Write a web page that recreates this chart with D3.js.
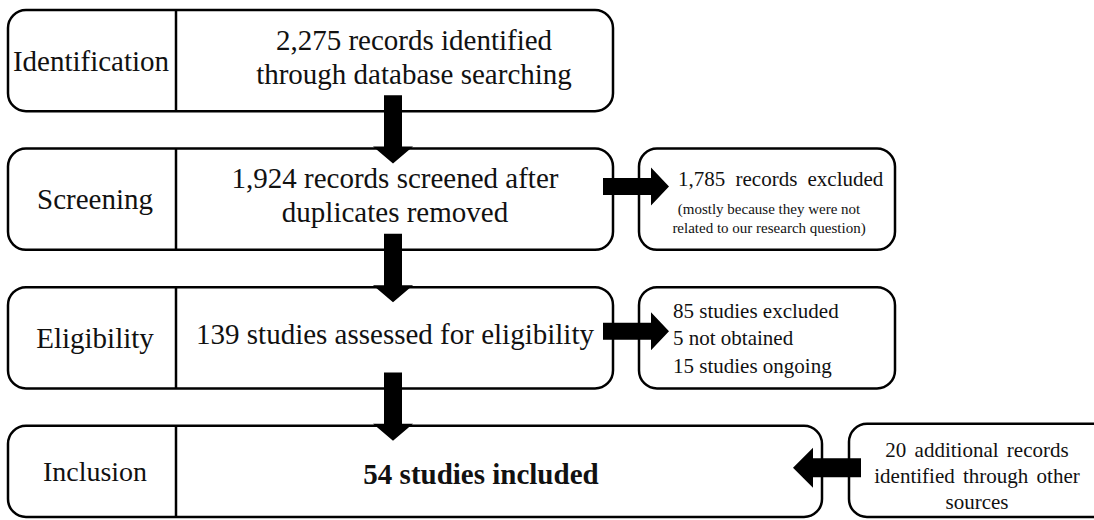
<!DOCTYPE html>
<html>
<head>
<meta charset="utf-8">
<script src="https://cdn.jsdelivr.net/npm/d3@7"></script>
<style>
  html, body { margin: 0; padding: 0; background: #fff; }
  svg { display: block; }
  .box { fill: #fff; stroke: #000; stroke-width: 2.5; }
  .divider { stroke: #000; stroke-width: 2.5; }
  .arrow { fill: #000; }
  text { font-family: "Liberation Serif", "Times New Roman", serif; fill: #111; }
</style>
</head>
<body>
<div id="chart"></div>
<script>
// PRISMA flow diagram
const W = 1094, H = 520;

const stages     = ['Identification', 'Screening', 'Eligibility', 'Inclusion'];
const mainLines  = [
  ['2,275 records identified', 'through database searching'],
  ['1,924 records screened after', 'duplicates removed'],
  ['139 studies assessed for eligibility'],
  ['54 studies included']
];
const excludedLines = [
  null,
  ['1,785 records excluded'],
  ['85 studies excluded', '5 not obtained', '15 studies ongoing'],
  null
];
const excludedNote = ['(mostly because they were not', 'related to our research question)'];
const otherSources = ['20 additional records', 'identified through other', 'sources'];

const svg = d3.select('#chart').append('svg')
  .attr('width', W)
  .attr('height', H);

// righe del diagramma
const y = d3.scaleBand()
  .domain(stages)
  .range([10, 527])
  .paddingInner(0.27);

const LEFT = 8, DIV = 176, MAIN_R = 613, LAST_R = 822;
const SIDE_L = 639, SIDE_R = 895;
const OTHER_L = 849;

const rowH = d => Math.min(y.bandwidth(), H - 3 - y(d));

// box principali
svg.selectAll('.main-box')
  .data(stages)
  .enter()
  .append('rect')
  .attr('class', 'box')
  .attr('x', LEFT)
  .attr('y', d => y(d))
  .attr('width', (d, i) => (i === stages.length - 1 ? LAST_R : MAIN_R) - LEFT)
  .attr('height', rowH)
  .attr('rx', 18);

svg.selectAll('.divider')
  .data(stages)
  .enter()
  .append('line')
  .attr('class', 'divider')
  .attr('x1', DIV).attr('x2', DIV)
  .attr('y1', d => y(d))
  .attr('y2', d => y(d) + rowH(d));

// etichette delle fasi
svg.selectAll('.stage-label')
  .data(stages)
  .enter()
  .append('text')
  .attr('class', 'stage-label')
  .attr('x', (d, i) => i === 0 ? 91 : 95)
  .attr('y', d => y(d) + rowH(d) / 2)
  .attr('dy', '0.35em')
  .attr('text-anchor', 'middle')
  .attr('font-size', (d, i) => i === 3 ? 28 : 29)
  .text(d => d);

// testo principale
const LINE_H = 34;
stages.forEach((s, i) => {
  const lines = mainLines[i];
  const cx = i === 3 ? 481 : (i === 0 ? 414 : 395);
  const cy = y(s) + (i === 3 ? rowH(s) / 2 + 2 : rowH(s) / 2 - 4);
  svg.append('g')
    .selectAll('text')
    .data(lines)
    .enter()
    .append('text')
    .attr('x', cx)
    .attr('y', (d, k) => cy + (k - (lines.length - 1) / 2) * LINE_H)
    .attr('dy', '0.35em')
    .attr('text-anchor', 'middle')
    .attr('font-size', 29)
    .attr('font-weight', i === 3 ? 'bold' : 'normal')
    .text(d => d);
});

// box laterali (esclusi)
const sideRows = stages.filter((s, i) => excludedLines[i]);
svg.selectAll('.side-box')
  .data(sideRows)
  .enter()
  .append('rect')
  .attr('class', 'box')
  .attr('x', SIDE_L)
  .attr('y', d => y(d))
  .attr('width', SIDE_R - SIDE_L)
  .attr('height', rowH)
  .attr('rx', 18);

// 1,785 records excluded
const s1 = stages[1];
svg.append('text')
  .attr('x', 678).attr('y', y(s1) + 30)
  .attr('dy', '0.35em')
  .attr('font-size', 21)
  .attr('word-spacing', 5)
  .text(excludedLines[1][0]);
svg.append('g')
  .selectAll('text')
  .data(excludedNote)
  .enter()
  .append('text')
  .attr('x', 769)
  .attr('y', (d, k) => y(s1) + 60 + k * 19)
  .attr('dy', '0.35em')
  .attr('text-anchor', 'middle')
  .attr('font-size', 15)
  .text(d => d);

// 85 studies excluded...
const s2 = stages[2];
svg.append('g')
  .selectAll('text')
  .data(excludedLines[2])
  .enter()
  .append('text')
  .attr('x', 673)
  .attr('y', (d, k) => y(s2) + 23 + k * 27.5)
  .attr('dy', '0.35em')
  .attr('font-size', 21)
  .text(d => d);

// box altre fonti
const s3 = stages[3];
svg.append('rect')
  .attr('class', 'box')
  .attr('x', OTHER_L)
  .attr('y', y(s3) - 2)
  .attr('width', 300)
  .attr('height', rowH(s3) + 2)
  .attr('rx', 18);

svg.append('g')
  .selectAll('text')
  .data(otherSources)
  .enter()
  .append('text')
  .attr('x', 977)
  .attr('y', (d, k) => y(s3) + 24 + k * 26)
  .attr('dy', '0.35em')
  .attr('text-anchor', 'middle')
  .attr('font-size', 21)
  .attr('word-spacing', (d, k) => k < 2 ? 3 : 0)
  .text(d => d);

// frecce
function arrowPath(x1, y1, x2, y2, shaft, head, headLen) {
  const len = Math.hypot(x2 - x1, y2 - y1);
  const ux = (x2 - x1) / len, uy = (y2 - y1) / len;
  const px = -uy, py = ux;
  const bx = x2 - ux * headLen, by = y2 - uy * headLen;
  const p = [
    [x1 + px * shaft / 2, y1 + py * shaft / 2],
    [bx + px * shaft / 2, by + py * shaft / 2],
    [bx + px * head / 2, by + py * head / 2],
    [x2, y2],
    [bx - px * head / 2, by - py * head / 2],
    [bx - px * shaft / 2, by - py * shaft / 2],
    [x1 - px * shaft / 2, y1 - py * shaft / 2]
  ];
  return d3.line()(p) + 'Z';
}

const ARROW_X = 393;
const down = d3.pairs(stages);
svg.selectAll('.arrow-down')
  .data(down)
  .enter()
  .append('path')
  .attr('class', 'arrow')
  .attr('d', ([a, b]) => arrowPath(ARROW_X, y(a) + rowH(a) - 16, ARROW_X, y(b) + 15, 18, 40, 17));

svg.selectAll('.arrow-right')
  .data(sideRows)
  .enter()
  .append('path')
  .attr('class', 'arrow')
  .attr('d', (d, i) => arrowPath(603, y(d) + (i === 0 ? 38 : 44), 669, y(d) + (i === 0 ? 38 : 44), 17, 38, 18));

svg.append('path')
  .attr('class', 'arrow')
  .attr('d', arrowPath(861, y(s3) + 42, 793, y(s3) + 42, 19, 40, 20));
</script>
</body>
</html>
